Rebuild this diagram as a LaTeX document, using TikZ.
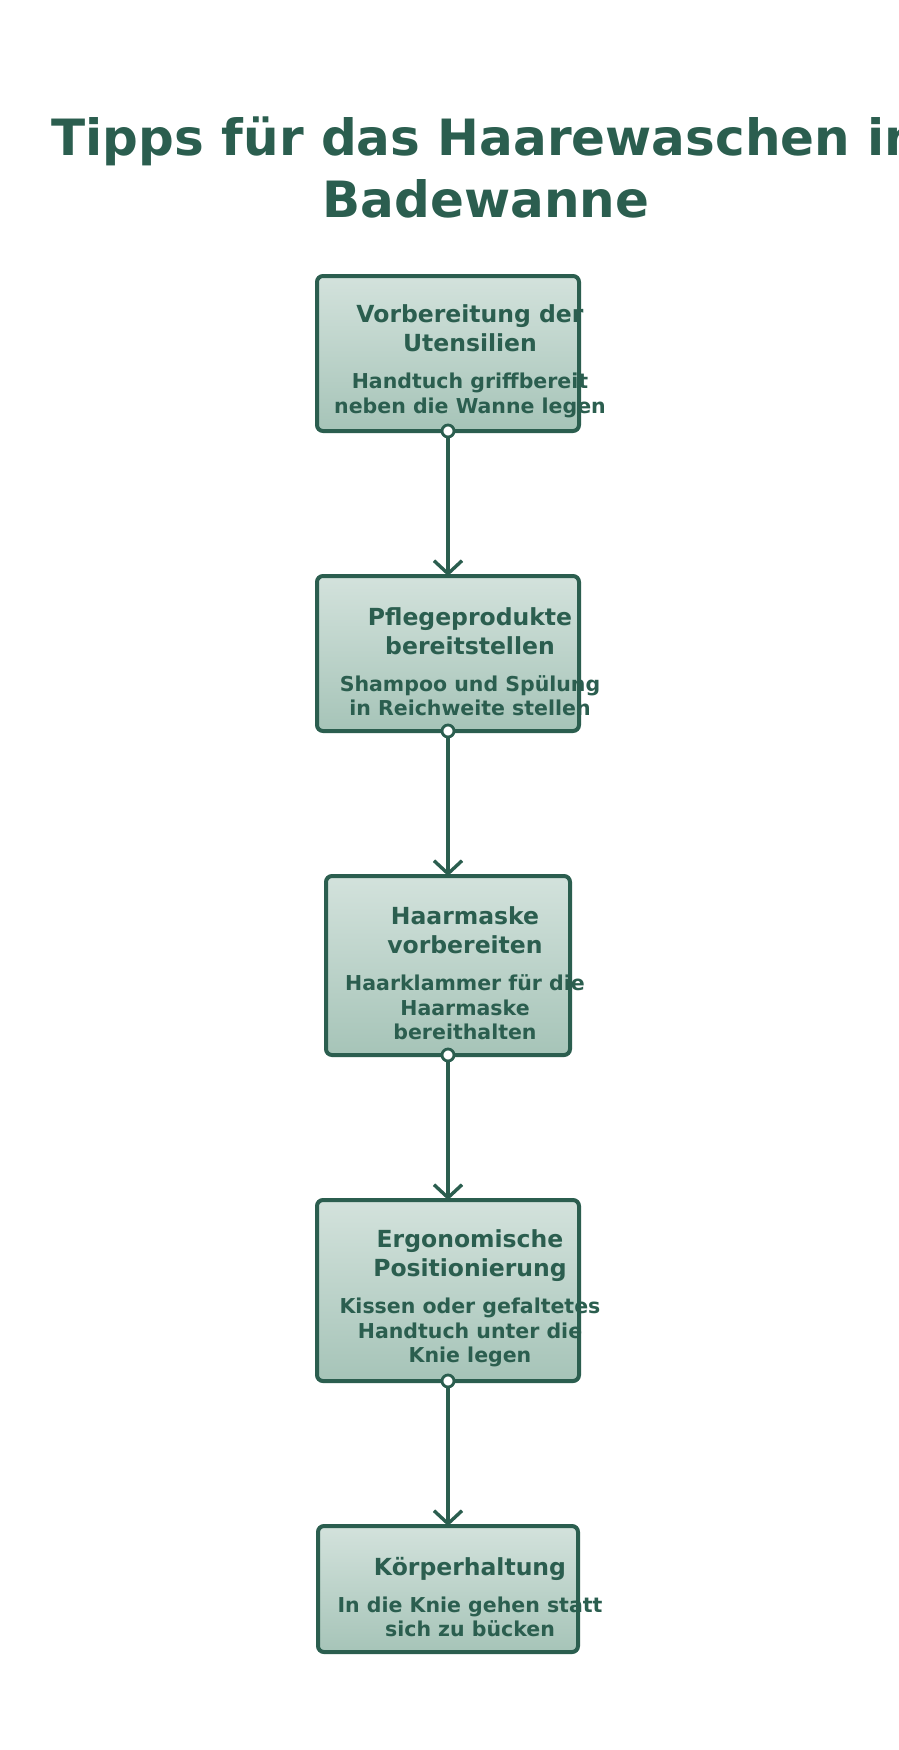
\documentclass[tikz,border=0pt]{standalone}
\usepackage{fontspec}
\setmainfont{DejaVu Sans}
\usetikzlibrary{positioning,arrows.meta,calc}
\definecolor{pinec}{HTML}{2B5E4F}
\definecolor{mistc}{HTML}{D3E2DC}
\definecolor{sagec}{HTML}{A6C4B8}
\newcommand{\steptitle}{\fontsize{23.5}{29}\selectfont\bfseries}
\newcommand{\stepnote}{\fontsize{20.5}{24.5}\selectfont\bfseries}
\tikzset{
  stepbox/.style  = {draw=pinec, line width=4pt, rounded corners=6pt, outer sep=0pt,
                     top color=mistc, bottom color=sagec, inner sep=0pt},
  steptext/.style = {text=pinec, align=flush center, text width=330pt, inner sep=0pt},
  port/.style     = {circle, draw=pinec, fill=white, line width=2.8pt,
                     minimum size=12pt, inner sep=0pt},
  flow/.style     = {-{Straight Barb[length=13pt,width=28pt]}, line width=3.4pt, draw=pinec},
  headline/.style = {text=pinec, align=center, font=\fontsize{50}{62}\selectfont\bfseries},
}

\begin{document}
\begin{tikzpicture}[x=1pt, y=-1pt]
\useasboundingbox[fill=white] (0,0) rectangle (898,1750);

% ---- title ----
\node[headline] (head) at (486,168) {Tipps für das Haarewaschen in\\Badewanne};

% ---- the steps ----
\node[stepbox, minimum width=262pt, minimum height=155pt] (s1) at (448,353.5) {};
\node[stepbox, minimum width=262pt, minimum height=155pt] (s2) at (448,653.5) {};
\node[stepbox, minimum width=244pt, minimum height=179pt] (s3) at (448,965.5) {};
\node[stepbox, minimum width=262pt, minimum height=181pt] (s4) at (448,1290.5) {};
\node[stepbox, minimum width=260pt, minimum height=126pt] (s5) at (448,1589) {};

\node[steptext] (t1) at ($(s1.center)+(22,8)$)
  {{\steptitle Vorbereitung der\\Utensilien\par}\vspace{12.5pt}
   {\stepnote Handtuch griffbereit\\neben die Wanne legen\par}};
\node[steptext] (t2) at ($(s2.center)+(22,8)$)
  {{\steptitle Pflegeprodukte\\bereitstellen\par}\vspace{12.5pt}
   {\stepnote Shampoo und Spülung\\in Reichweite stellen\par}};
\node[steptext] (t3) at ($(s3.center)+(17,8)$)
  {{\steptitle Haarmaske\\vorbereiten\par}\vspace{12.5pt}
   {\stepnote Haarklammer für die\\Haarmaske\\bereithalten\par}};
\node[steptext] (t4) at ($(s4.center)+(22,8)$)
  {{\steptitle Ergonomische\\Positionierung\par}\vspace{12.5pt}
   {\stepnote Kissen oder gefaltetes\\Handtuch unter die\\Knie legen\par}};
\node[steptext] (t5) at ($(s5.center)+(22,8)$)
  {{\steptitle Körperhaltung\par}\vspace{12.5pt}
   {\stepnote In die Knie gehen statt\\sich zu bücken\par}};

% ---- connectors ----
\foreach \a/\b in {1/2, 2/3, 3/4, 4/5} {
  \node[port] (p\a) at (s\a.south) {};
  \draw[flow] (p\a) -- (s\b.north);
}

\end{tikzpicture}
\end{document}
